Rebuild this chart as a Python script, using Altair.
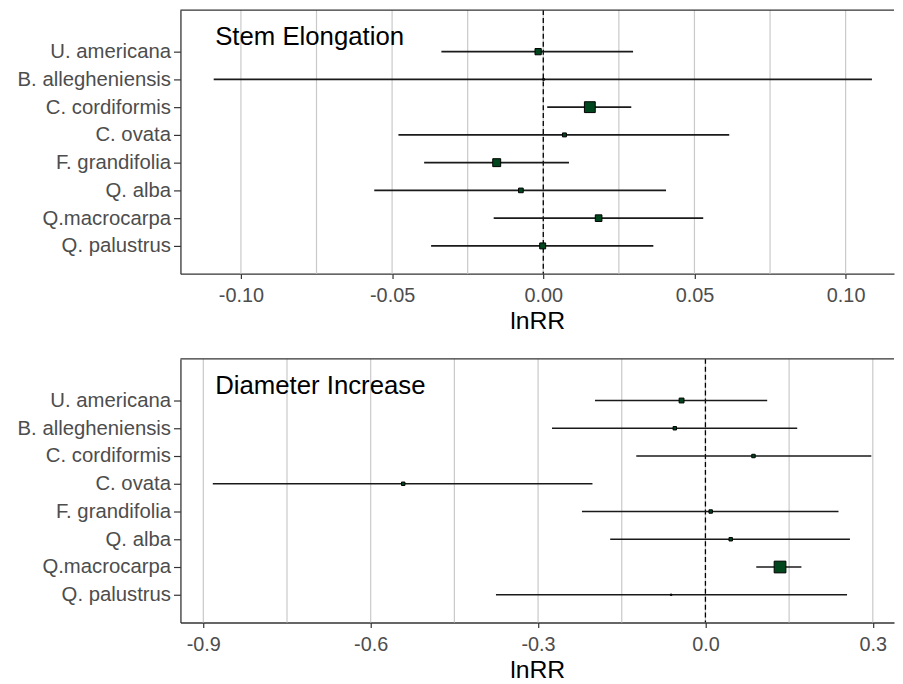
import json
import altair as alt
import pandas as pd

# ---------------- data ----------------
species = ["U. americana", "B. allegheniensis", "C. cordiformis\u00a0", "C. ovata",
           "F. grandifolia", "Q. alba", "Q.macrocarpa", "Q. palustrus"]
rows = [1, 2, 3, 4, 5, 6, 7, 8]

stem_title = ["Stem Elongation"]
stem_est = [-0.0017, 0.0001, 0.0154, 0.0070, -0.0154, -0.0074, 0.0183, -0.0002]
stem_lo = [-0.0337, -0.1090, 0.0013, -0.0479, -0.0394, -0.0559, -0.0164, -0.0371]
stem_hi = [0.0297, 0.1087, 0.0291, 0.0615, 0.0085, 0.0406, 0.0529, 0.0364]
stem_weight = [40, 3, 120, 16, 64, 22, 45, 36]
stem_ticks = [-0.10, -0.05, 0.0, 0.05, 0.10]
stem_grid = [-0.10, -0.075, -0.05, -0.025, 0.0, 0.025, 0.05, 0.075, 0.10]
stem_domain = [-0.12, 0.116]

diam_title = ["Diameter Increase"]
diam_est = [-0.0428, -0.0549, 0.0861, -0.5417, 0.0094, 0.0453, 0.1337, -0.0615]
diam_lo = [-0.198, -0.275, -0.124, -0.883, -0.2213, -0.1707, 0.0911, -0.3755]
diam_hi = [0.1107, 0.1645, 0.2973, -0.2025, 0.2385, 0.259, 0.172, 0.2538]
diam_weight = [24, 12, 12, 12, 12, 12, 140, 2]
diam_ticks = [-0.9, -0.6, -0.3, 0.0, 0.3]
diam_grid = [-0.9, -0.75, -0.6, -0.45, -0.3, -0.15, 0.0, 0.15, 0.3]
diam_domain = [-0.941, 0.338]

ref_line = [0.0]
x_title = "lnRR"

FONT = "Liberation Sans"
W, H = 720, 266

label_expr = "[" + ",".join(json.dumps(s, ensure_ascii=False) for s in species) + "][datum.value - 1]"


def panel(title, est, lo, hi, weight, ticks, grid_vals, domain, decimals):
    df = pd.DataFrame({"row": rows, "species": species, "est": est,
                       "lo": lo, "hi": hi, "weight": weight})
    xs = alt.Scale(domain=domain, nice=False, zero=False)
    ys = alt.Scale(domain=[-0.5, 9.0], reverse=True, nice=False, zero=False)
    x_axis = alt.Axis(
        values=ticks, grid=False, title=x_title,
        labelExpr=f"(datum.value < -1e-9 ? '-' : '') + format(abs(datum.value), '.{decimals}f')",
        labelFontSize=20, labelColor="#4d4d4d", labelFont=FONT, labelPadding=7,
        tickSize=5, tickColor="#333333", tickWidth=1.2,
        domainColor="#333333", domainWidth=1.3,
        titleFontSize=25, titleFont=FONT, titleColor="#000000", titleFontWeight="normal",
        titlePadding=3,
    )
    y_axis = alt.Axis(
        values=rows, grid=False, title=None, labelExpr=label_expr,
        labelFontSize=20.5, labelColor="#4d4d4d", labelFont=FONT, labelPadding=3,
        tickSize=7, tickColor="#333333", tickWidth=1.2,
        domainColor="#333333", domainWidth=1.3,
        minExtent=173.7, maxExtent=173.7,
    )

    def X(field):
        return alt.X(field, scale=xs, axis=x_axis, title=x_title)

    def Y(field):
        return alt.Y(field, scale=ys, axis=y_axis, title=None)

    grid = alt.Chart(pd.DataFrame({"g": grid_vals})).mark_rule(
        color="#c9c9c9", strokeWidth=1.2
    ).encode(x=X("g:Q"))

    zero = alt.Chart(pd.DataFrame({"z": ref_line})).mark_rule(
        color="#000000", strokeWidth=1.3, strokeDash=[5, 3]
    ).encode(x=X("z:Q"))

    bars = alt.Chart(df).mark_rule(color="#1a1a1a", strokeWidth=1.7).encode(
        x=X("lo:Q"), x2="hi:Q", y=Y("row:Q")
    )

    pts = alt.Chart(df).mark_square(
        color="#00461c", fill="#00461c", stroke="#000000", strokeWidth=1.0, opacity=1
    ).encode(
        x=X("est:Q"), y=Y("row:Q"),
        size=alt.Size("weight:Q", scale=alt.Scale(domain=[0, 150], range=[0, 150]), legend=None),
    )

    label = alt.Chart(pd.DataFrame({"t": title})).mark_text(
        align="left", baseline="alphabetic", font=FONT, fontSize=26, color="#000000"
    ).encode(text="t:N", x=alt.value(35), y=alt.value(35.5))

    top = alt.Chart(pd.DataFrame({"t": title})).mark_rule(
        color="#333333", strokeWidth=1.3
    ).encode(x=alt.value(0), x2=alt.value(W), y=alt.value(0))

    return alt.layer(grid, zero, bars, pts, label, top).properties(width=W, height=H)


p1 = panel(stem_title, stem_est, stem_lo, stem_hi, stem_weight, stem_ticks, stem_grid, stem_domain, 2)
p2 = panel(diam_title, diam_est, diam_lo, diam_hi, diam_weight, diam_ticks, diam_grid, diam_domain, 1)

chart = alt.vconcat(p1, p2, spacing=25).properties(
    padding={"left": 0, "top": -2, "right": 0, "bottom": 0},
    background="white",
).configure_view(stroke=None)

chart.save("out.html", embed_options={"renderer": "svg", "actions": False})
